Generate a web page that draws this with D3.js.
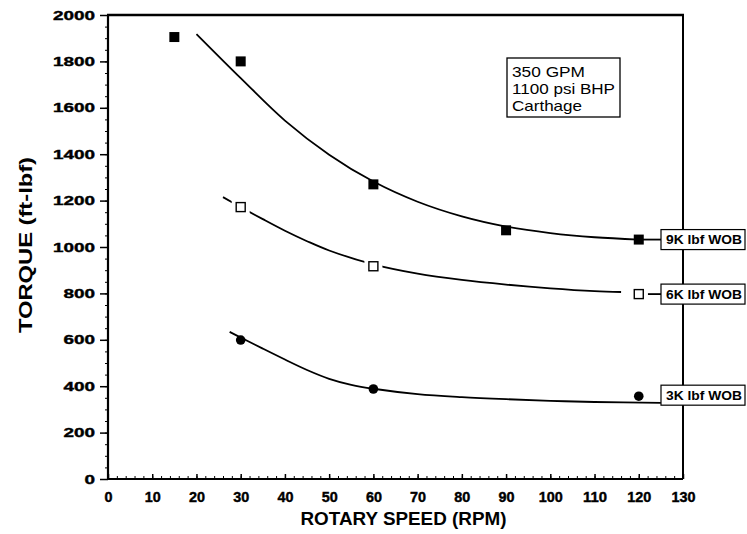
<!DOCTYPE html>
<html>
<head>
<meta charset="utf-8">
<script src="https://cdn.jsdelivr.net/npm/d3@7"></script>
<style>
  body { margin: 0; background: #fff; }
  svg { display: block; font-family: "Liberation Sans", Arial, sans-serif; }
</style>
</head>
<body>
<div id="chart"></div>
<script>
let w = 747;
let h = 534;
let margin = { top: 15, right: 64, bottom: 55, left: 108 };

// measured points
const rpm9K = [15, 30, 60, 90, 120];
const torque9K = [1905, 1800, 1270, 1072, 1032];
const rpm6K = [30, 60, 120];
const torque6K = [1172, 917, 797];
const rpm3K = [30, 60, 120];
const torque3K = [599, 388, 357];

// fitted curves
const fitRpm9K = [20, 30, 40, 50, 60, 70, 80, 90, 100, 110, 120];
const fitTorque9K = [1918, 1728, 1545, 1398, 1282, 1195, 1132, 1088, 1060, 1042, 1032];
const fitRpm6K = [26, 30, 35, 40, 45, 50, 60, 70, 80, 90, 100, 110, 116];
const fitTorque6K = [1215, 1172, 1120, 1070, 1025, 985, 925, 885, 858, 838, 822, 810, 806];
const fitRpm3K = [27.5, 30, 35, 40, 45, 50, 55, 60, 70, 80, 90, 100, 110, 125];
const fitTorque3K = [634, 610, 562, 515, 470, 432, 406, 389, 366, 353, 344, 337, 332, 328];

const seriesLabels = ["9K lbf WOB", "6K lbf WOB", "3K lbf WOB"];
const noteLines = ["350 GPM", "1100 psi BHP", "Carthage"];
const xTicks = [0, 10, 20, 30, 40, 50, 60, 70, 80, 90, 100, 110, 120, 130];
const yTicks = [0, 200, 400, 600, 800, 1000, 1200, 1400, 1600, 1800, 2000];

let svg = d3.select("#chart")
            .append("svg")
            .attr("width", w)
            .attr("height", h);

let xScale = d3.scaleLinear([0, 130], [margin.left, w - margin.right]);
let yScale = d3.scaleLinear([0, 2000], [h - margin.bottom, margin.top]);

//   x axis, ticks point inward
let xMinor = d3.axisBottom(xScale).tickValues(d3.range(0, 131, 2)).tickSize(-3).tickFormat("");
svg.append("g")
   .attr("transform", `translate(0,${yScale(0)})`)
   .call(xMinor)
   .call(g => g.select(".domain").remove());

let xAxis = d3.axisBottom(xScale).tickValues(xTicks).tickSize(-5).tickPadding(13).tickFormat(d3.format("d"));
let gx = svg.append("g")
   .attr("transform", `translate(0,${yScale(0)})`)
   .call(xAxis);
gx.select(".domain").remove();
gx.selectAll("line").attr("stroke-width", 1.5);
gx.selectAll("text")
  .attr("font-size", 14)
  .attr("font-weight", "bold")
  .attr("fill", "#000")
  .attr("stroke", "#000")
  .attr("stroke-width", 0.4)
  .attr("textLength", d => String(d).length * 8)
  .attr("lengthAdjust", "spacingAndGlyphs");

//   y axis
let yMinor = d3.axisLeft(yScale).tickValues(d3.range(0, 2001, 50)).tickSize(3).tickFormat("");
svg.append("g")
   .attr("transform", `translate(${xScale(0)},0)`)
   .call(yMinor)
   .call(g => g.select(".domain").remove());

let yAxis = d3.axisLeft(yScale).tickValues(yTicks).tickSize(8).tickPadding(5).tickFormat(d3.format("d"));
let gy = svg.append("g")
   .attr("transform", `translate(${xScale(0)},0)`)
   .call(yAxis);
gy.select(".domain").remove();
gy.selectAll("line").attr("stroke-width", 1.5);
gy.selectAll("text")
  .attr("font-size", 13)
  .attr("font-weight", "bold")
  .attr("fill", "#000")
  .attr("stroke", "#000")
  .attr("stroke-width", 0.4)
  .attr("textLength", d => String(d).length * 10.5)
  .attr("lengthAdjust", "spacingAndGlyphs");

// frame
let x0 = xScale(0), x1 = xScale(130), y0 = yScale(0), y1 = yScale(2000);
svg.append("line").attr("x1", x0).attr("x2", x1).attr("y1", y0).attr("y2", y0).attr("stroke", "#000").attr("stroke-width", 2);
svg.append("line").attr("x1", x0).attr("x2", x0).attr("y1", y0).attr("y2", y1).attr("stroke", "#000").attr("stroke-width", 2.2);
svg.append("line").attr("x1", x0 - 1).attr("x2", x1 + 1).attr("y1", y1).attr("y2", y1).attr("stroke", "#000").attr("stroke-width", 2.5);
svg.append("line").attr("x1", x1).attr("x2", x1).attr("y1", y1).attr("y2", y0).attr("stroke", "#000").attr("stroke-width", 2);

// axis titles
svg.append("text")
   .attr("x", (x0 + x1) / 2 + 8)
   .attr("y", 525)
   .attr("text-anchor", "middle")
   .attr("font-size", 18)
   .attr("font-weight", "bold")
   .attr("textLength", 206)
   .attr("lengthAdjust", "spacingAndGlyphs")
   .text("ROTARY SPEED (RPM)");

svg.append("text")
   .attr("transform", "translate(32,245) rotate(-90)")
   .attr("text-anchor", "middle")
   .attr("font-size", 19)
   .attr("font-weight", "bold")
   .attr("textLength", 176)
   .attr("lengthAdjust", "spacingAndGlyphs")
   .text("TORQUE (ft-lbf)");

// fitted curves
let line = d3.line().x(d => xScale(d[0])).y(d => yScale(d[1])).curve(d3.curveCatmullRom.alpha(0.5));
let curves = [
  d3.zip(fitRpm9K, fitTorque9K),
  d3.zip(fitRpm6K, fitTorque6K),
  d3.zip(fitRpm3K, fitTorque3K)
];
svg.selectAll("path.fit")
   .data(curves)
   .enter()
   .append("path")
   .attr("class", "fit")
   .attr("d", line)
   .attr("fill", "none")
   .attr("stroke", "#000")
   .attr("stroke-width", 1.8);

// leader lines to the labels
let boxLeft = 661;
svg.append("line")
   .attr("x1", xScale(120)).attr("x2", boxLeft)
   .attr("y1", yScale(torque9K[4])).attr("y2", yScale(torque9K[4]))
   .attr("stroke", "#000").attr("stroke-width", 1.8);
svg.append("line")
   .attr("x1", xScale(120) + 9).attr("x2", boxLeft)
   .attr("y1", yScale(torque6K[2])).attr("y2", yScale(torque6K[2]))
   .attr("stroke", "#000").attr("stroke-width", 1.8);

// markers
svg.selectAll("rect.m9")
   .data(d3.zip(rpm9K, torque9K))
   .enter()
   .append("rect")
   .attr("x", d => xScale(d[0]) - 5)
   .attr("y", d => yScale(d[1]) - 5)
   .attr("width", 10)
   .attr("height", 10)
   .attr("fill", "#000");

let open = svg.selectAll("g.m6")
   .data(d3.zip(rpm6K, torque6K))
   .enter()
   .append("g")
   .attr("transform", d => `translate(${xScale(d[0])},${yScale(d[1])})`);
open.append("rect")
    .attr("x", -9).attr("y", -9).attr("width", 18).attr("height", 18)
    .attr("fill", "#fff");
open.append("rect")
    .attr("x", -4.5).attr("y", -4.5).attr("width", 9).attr("height", 9)
    .attr("fill", "#fff").attr("stroke", "#000").attr("stroke-width", 1.4);

svg.selectAll("circle.m3")
   .data(d3.zip(rpm3K, torque3K))
   .enter()
   .append("circle")
   .attr("cx", d => xScale(d[0]))
   .attr("cy", d => yScale(d[1]))
   .attr("r", 4.8)
   .attr("fill", "#000");

// series labels at the right
let labelY = [torque9K[4], torque6K[2], torque3K[2]];
let lab = svg.selectAll("g.lab")
   .data(seriesLabels)
   .enter()
   .append("g")
   .attr("transform", (d, i) => `translate(${boxLeft},${yScale(labelY[i]) + (i === 2 ? -1 : 0)})`);
lab.append("rect")
   .attr("x", 0).attr("y", -10).attr("width", 84).attr("height", 20)
   .attr("fill", "#fff").attr("stroke", "#000").attr("stroke-width", 1.2);
lab.append("text")
   .attr("x", 5).attr("y", 4.5)
   .attr("font-size", 12)
   .attr("font-weight", "bold")
   .attr("textLength", 76)
   .attr("lengthAdjust", "spacingAndGlyphs")
   .text(d => d);

// conditions note
svg.append("rect")
   .attr("x", 507).attr("y", 58).attr("width", 113).attr("height", 59)
   .attr("fill", "#fff").attr("stroke", "#000").attr("stroke-width", 1.3);
svg.selectAll("text.note")
   .data(noteLines)
   .enter()
   .append("text")
   .attr("x", 512)
   .attr("y", (d, i) => 77 + i * 17)
   .attr("font-size", 14.5)
   .attr("textLength", (d, i) => [73, 103, 70][i])
   .attr("lengthAdjust", "spacingAndGlyphs")
   .text(d => d);
</script>
</body>
</html>
